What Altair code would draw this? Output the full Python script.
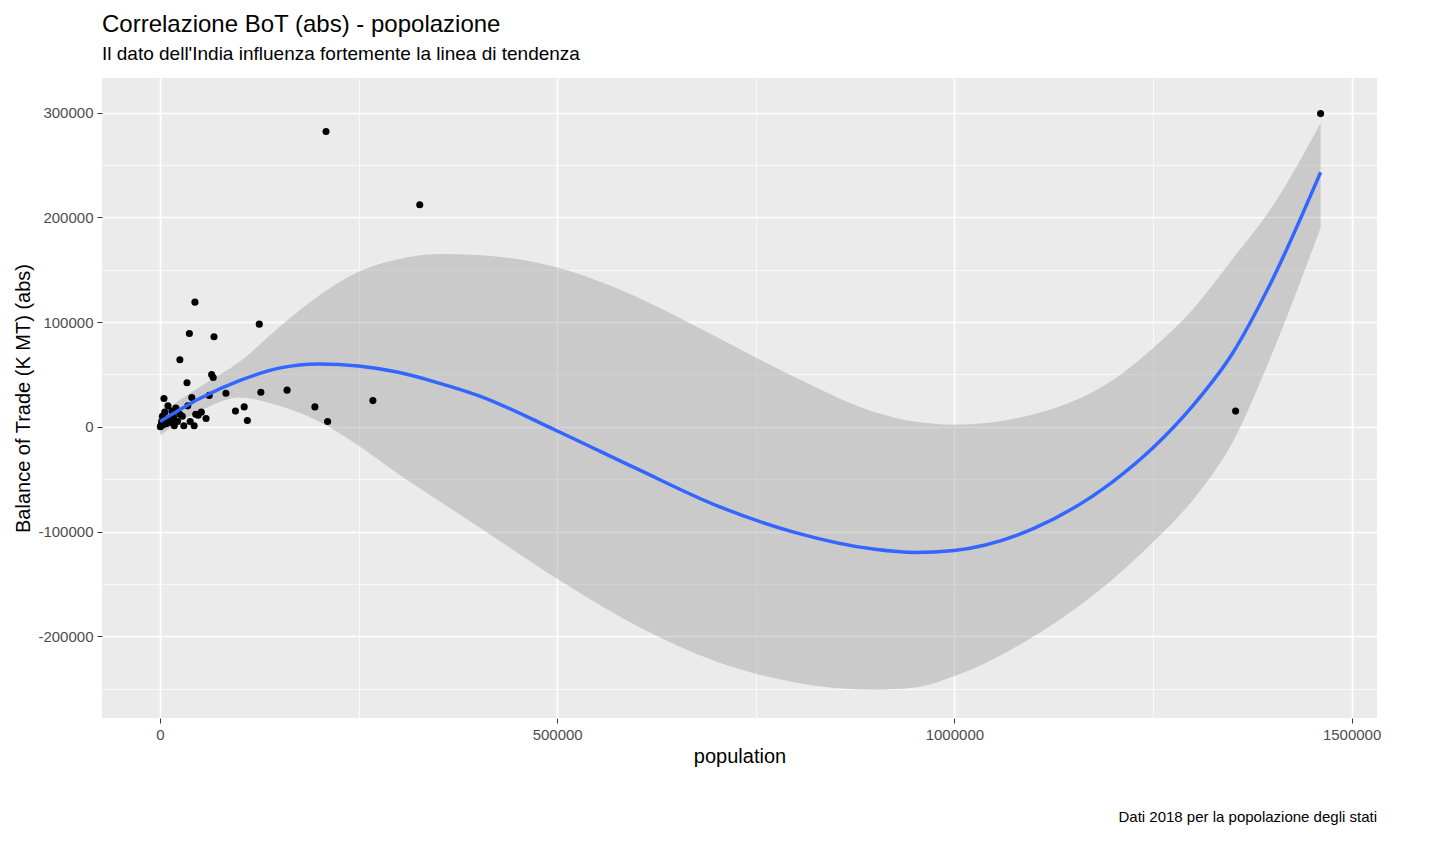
import altair as alt
import pandas as pd

# scatter: population (thousands) vs balance of trade (K MT, abs)
pop = [209000, 327000, 1461000, 1354000, 44000, 37000, 68000, 125000, 25000, 65000,
       67000, 34000, 83000, 160000, 127000, 195000, 211000, 268000, 106000, 110000,
       95000, 62000, 58000, 45000, 30000, 43000, 5000, 3000, 2000, 10000,
       15000, 20000, 8000, 12000, 18000, 25000, 1000, 500, 6000, 22000,
       28000, 35000, 40000, 48000, 52000, 38000, 4000, 7000, 14000, 17000]
bot = [282000, 212000, 299000, 15000, 119000, 89000, 86000, 98000, 64000, 50000,
       47000, 42000, 32000, 35000, 33000, 19000, 5000, 25000, 19000, 6000,
       15000, 30000, 8000, 12000, 1000, 1000, 27000, 10000, 5000, 20000,
       15000, 18000, 3000, 8000, 1000, 12000, 1000, 0, 14000, 5000,
       10000, 20000, 28000, 11000, 14000, 5000, 2000, 7000, 4000, 9000]

# smoothed trend line and its confidence band
fit_x = [0, 50000, 100000, 150000, 200000, 250000, 300000, 350000, 400000, 500000,
         600000, 700000, 800000, 900000, 950000, 1000000, 1100000, 1200000, 1250000,
         1300000, 1350000, 1400000, 1461000]
fit_y = [5000, 27000, 44000, 56000, 60000, 58000, 52000, 42000, 30000, -4000,
         -40000, -75000, -101000, -117000, -120000, -118000, -97000, -52000, -20000,
         20000, 70000, 140000, 243000]
fit_lo = [-8000, 15000, 28000, 20000, 5000, -18000, -45000, -70000, -95000, -145000,
          -190000, -224000, -244000, -251000, -249000, -238000, -200000, -145000, -110000,
          -70000, -15000, 70000, 190000]
fit_hi = [13000, 38000, 62000, 95000, 125000, 148000, 160000, 165000, 164000, 152000,
          124000, 86000, 47000, 14000, 5000, 2000, 12000, 45000, 75000,
          112000, 160000, 210000, 290000]

pts = pd.DataFrame({"population": pop, "bot": bot})
fit = pd.DataFrame({"population": fit_x, "y": fit_y, "lo": fit_lo, "hi": fit_hi})

grid_w = {"condition": {"test": "datum.value % 100000 == 0", "value": 1.6}, "value": 0.7}
xgrid_w = {"condition": {"test": "datum.value % 500000 == 0", "value": 1.6}, "value": 0.7}
tick_op_y = {"condition": {"test": "datum.value % 100000 == 0", "value": 1}, "value": 0}
tick_op_x = {"condition": {"test": "datum.value % 500000 == 0", "value": 1}, "value": 0}

xs = alt.Scale(domain=[-73000, 1532000], nice=False, zero=False)
ys = alt.Scale(domain=[-278000, 333000], nice=False, zero=False)

xax = alt.Axis(values=[0, 250000, 500000, 750000, 1000000, 1250000, 1500000],
               labelExpr="datum.value % 500000 == 0 ? datum.value : ''",
               gridWidth=xgrid_w, tickOpacity=tick_op_x, format="d")
yax = alt.Axis(values=[-250000, -200000, -150000, -100000, -50000, 0, 50000, 100000,
                       150000, 200000, 250000, 300000],
               labelExpr="datum.value % 100000 == 0 ? datum.value : ''",
               gridWidth=grid_w, tickOpacity=tick_op_y, format="d")

band = alt.Chart(fit).mark_area(color="#999999", opacity=0.4, interpolate="monotone").encode(
    x=alt.X("population:Q", scale=xs, axis=xax, title="population"),
    y=alt.Y("lo:Q", scale=ys, axis=yax, title="Balance of Trade (K MT) (abs)"),
    y2="hi:Q",
)
points = alt.Chart(pts).mark_circle(color="black", opacity=1, size=50).encode(
    x=alt.X("population:Q", scale=xs),
    y=alt.Y("bot:Q", scale=ys),
)
line = alt.Chart(fit).mark_line(color="#3366FF", strokeWidth=3.5, interpolate="monotone").encode(
    x=alt.X("population:Q", scale=xs),
    y=alt.Y("y:Q", scale=ys),
)
caption = alt.Chart(pd.DataFrame({"t": ["Dati 2018 per la popolazione degli stati"]})).mark_text(
    align="right", baseline="bottom", fontSize=15, font="Liberation Sans", color="black"
).encode(x=alt.value(1275), y=alt.value(107 + 640), text="t:N")

chart = (band + points + line + caption).properties(
    width=1275, height=640,
    title=alt.TitleParams(
        "Correlazione BoT (abs) - popolazione",
        subtitle="Il dato dell'India influenza fortemente la linea di tendenza",
        anchor="start", frame="group", fontSize=24, fontWeight="normal",
        subtitleFontSize=19, font="Liberation Sans", subtitleFont="Liberation Sans",
        color="black", subtitleColor="black", offset=14, subtitlePadding=8,
    ),
).configure(background="white").configure_view(fill="#EBEBEB", stroke=None).configure_axis(
    gridColor="white", domain=False, tickColor="#333333", tickSize=5,
    labelFont="Liberation Sans", titleFont="Liberation Sans", labelFontSize=15,
    labelColor="#4D4D4D", titleFontSize=20, titleFontWeight="normal", titleColor="black",
    labelPadding=4,
)

chart.save("out.html", embed_options={"renderer": "svg", "actions": False})
